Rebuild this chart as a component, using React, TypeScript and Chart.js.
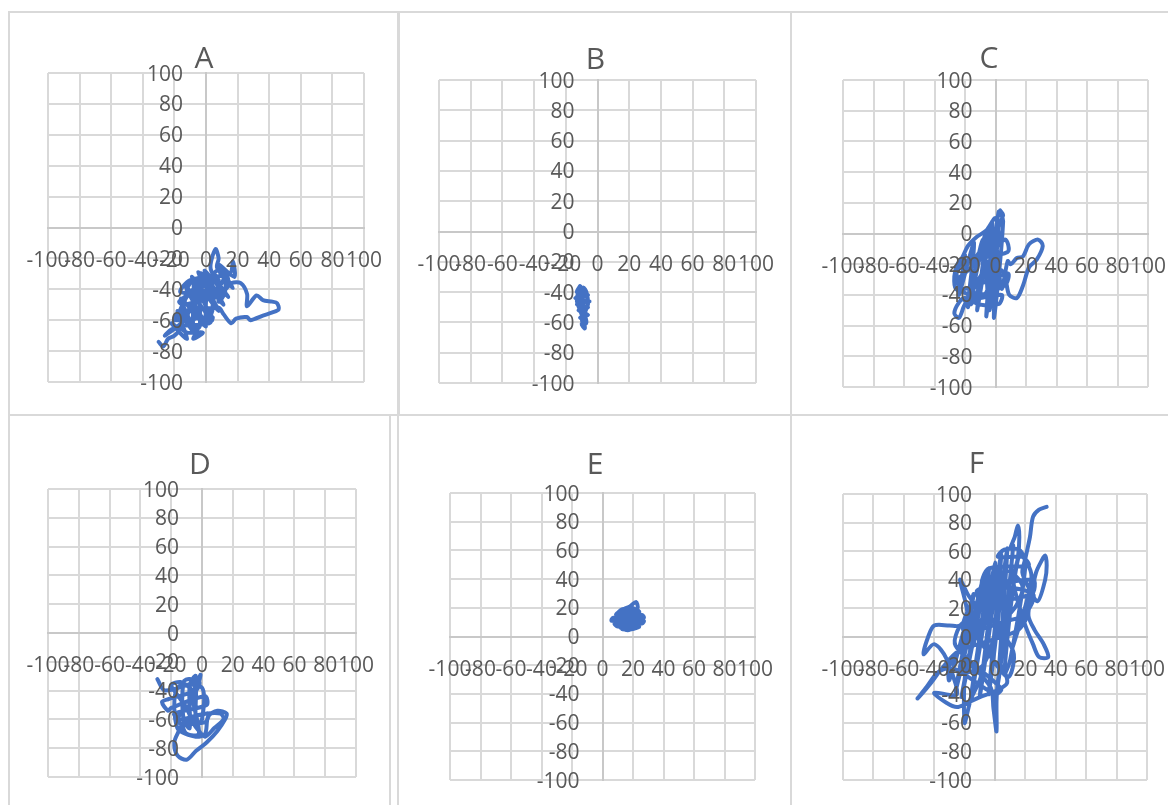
import React, { useEffect, useRef } from "react";
import { Chart, registerables } from "chart.js";

Chart.register(...registerables);

// ---------- data ----------
const titles = ["A", "B", "C", "D", "E", "F"];
const axisMin = -100;
const axisMax = 100;
const axisStep = 20;

type Pt = [number, number];

const pointsA: Pt[] = [
  [-30, -74], [-27, -77], [-24, -72], [-20, -70], [-17, -66], [-22, -62], [-12, -72], [-18, -54], [-6, -70], [-16, -46],
  [0, -64], [-13, -38], [4, -60], [-9, -32], [8, -54], [-5, -29], [11, -50], [-1, -28], [14, -45], [3, -27],
  [6, -14], [8, -20], [7, -26], [17, -39], [8, -24], [18, -32], [17, -22], [15, -30], [-10, -34], [-16, -42],
  [12, -40], [16, -36], [22, -36], [26, -43], [26, -51], [32, -44], [36, -47], [42, -48], [45, -49], [46, -53],
  [42, -55], [36, -57], [28, -60], [26, -58], [19, -59], [16, -62], [11, -56], [8, -52], [-18, -56], [-20, -60],
  [4, -58], [2, -62], [-16, -64], [-12, -68], [-2, -68], [-8, -72], [-6, -66], [-14, -58], [-12, -40], [-8, -34],
  [-8, -66], [-4, -64], [-4, -30], [0, -32], [0, -60], [4, -54], [4, -30], [8, -34], [8, -48], [12, -42],
  [12, -30], [10, -36], [-2, -46], [-14, -50], [-17, -48], [-10, -44], [-6, -56], [-10, -62], [-22, -66], [-26, -70],
  [-14, -60], [-2, -38], [10, -26], [14, -36], [4, -46], [-8, -40], [-18, -58], [-10, -52], [-2, -36],
];

const pointsB: Pt[] = [
  [-11, -36], [-13, -40], [-6, -42], [-14, -44], [-5, -46], [-13, -48], [-6, -50], [-12, -52], [-6, -55], [-11, -57],
  [-7, -59], [-10, -61], [-8, -64], [-9, -58], [-11, -52], [-13, -46], [-12, -40], [-9, -37], [-7, -40], [-6, -48],
  [-8, -54], [-7, -60], [-9, -62], [-10, -54], [-9, -46], [-10, -40], [-8, -38], [-11, -44], [-8, -50], [-10, -48],
];

const pointsC: Pt[] = [
  [3, 15], [5, 12], [2, 4], [-1, -55], [5, 8], [2, 14], [-6, -54], [-2, 8], [-12, -50], [-6, 2],
  [-18, -48], [-14, -6], [-24, -40], [-20, -14], [-26, -30], [6, -4], [8, -12], [-24, -20], [-22, -36], [8, -26],
  [6, -34], [-20, -44], [4, -40], [2, -46], [-14, -44], [-8, -4], [-4, -50], [0, -6], [4, -36], [8, -18],
  [10, -20], [14, -16], [18, -15], [22, -7], [28, -4], [31, -8], [27, -17], [22, -22], [18, -34], [14, -42],
  [9, -40], [7, -32], [4, -24], [-6, -26], [-10, -34], [-16, -46], [-20, -42], [-24, -45], [-27, -52], [-24, -55],
  [-21, -48], [-18, -40], [-26, -36], [-27, -28], [-25, -20], [-22, -16], [-18, -8], [-12, -2], [-6, 2], [0, 10],
  [2, -6], [-4, -18], [-10, -28], [-14, -34], [-10, -12], [-16, -24], [-8, -40], [0, -24],
];

const pointsD: Pt[] = [
  [-29, -32], [-24, -40], [-2, -34], [-4, -40], [-22, -46], [-26, -48], [-22, -54], [-20, -52], [2, -44], [3, -50],
  [-18, -56], [-14, -60], [4, -56], [2, -62], [-12, -64], [-10, -70], [-2, -70], [-6, -44], [-1, -29], [-3, -36],
  [-8, -32], [-12, -34], [-12, -60], [-8, -66], [-8, -36], [-4, -30], [-4, -64], [0, -60], [0, -38], [-16, -38],
  [-16, -66], [-4, -72], [2, -70], [4, -58], [10, -54], [16, -56], [15, -60], [10, -68], [3, -76], [-4, -82],
  [-10, -88], [-16, -85], [-18, -76], [-15, -68], [-12, -62], [-6, -58], [2, -56], [12, -56], [14, -60], [8, -66],
  [2, -72], [-2, -68], [-6, -62], [-10, -52], [-14, -46], [-18, -40], [-20, -36], [-14, -34], [-8, -38], [-4, -44],
  [-8, -50], [-12, -54], [-16, -60], [-12, -64], [-6, -58],
];

const pointsE: Pt[] = [
  [13, 5], [19, 5], [24, 7], [10, 7], [8, 9], [26, 9], [27, 11], [6, 11], [7, 13], [27, 13],
  [26, 15], [9, 15], [11, 17], [24, 17], [22, 19], [14, 19], [18, 21], [22, 24], [23, 20], [20, 18],
  [16, 16], [12, 6], [10, 16], [14, 19], [15, 5], [18, 5], [18, 20], [21, 19], [21, 6], [24, 8],
  [24, 16], [26, 12], [20, 10], [14, 12], [17, 14],
];

const pointsF: Pt[] = [
  [34, 91], [29, 89], [25, 84], [23, 70], [20, 55], [18, 45], [22, 35], [28, 25], [33, 40], [34, 50],
  [33, 57], [30, 52], [27, 45], [24, 30], [22, 15], [26, 5], [32, -5], [35, -14], [29, -14], [25, -5],
  [20, 8], [15, 25], [12, 40], [15, 55], [16, 70], [15, 78], [13, 70], [10, 62], [12, 64], [2, -34],
  [8, 62], [-4, -40], [4, 58], [-10, -42], [0, 52], [-16, -44], [-4, 48], [-22, -42], [-8, 40], [-26, -38],
  [-14, 30], [-30, -30], [-32, -15], [-40, -5], [-47, -12], [-44, 0], [-40, 8], [-30, 8], [-23, 8], [-18, 15],
  [-23, 40], [-18, 30], [-12, 18], [-30, -20], [-38, -25], [-45, -35], [-51, -43], [-42, -32], [-35, -22], [-24, -10],
  [14, 4], [20, 14], [-20, 4], [-16, 20], [24, 30], [25, 40], [-8, 36], [-4, 48], [22, 50], [18, 56],
  [2, 56], [6, 61], [16, 61], [20, 50], [10, -16], [6, -26], [16, 58], [24, 42], [12, -6], [14, 4],
  [25, 30], [-12, 32], [12, -10], [8, -28], [-20, 10], [-26, -6], [4, -36], [0, -40], [-28, -22], [-25, -40],
  [-40, -39], [-32, -46], [-25, -49], [-18, -46], [-10, -42], [0, -38], [8, -32], [4, -20], [2, -30], [1, -45],
  [1, -66], [-1, -50], [-3, -35], [-18, -20], [-20, -60], [-16, -44], [-10, -30], [-6, -14], [6, 10], [10, 30],
  [4, 44], [-6, 20], [-14, -4], [-20, -24], [-8, -20], [2, 6], [14, 22], [18, 36], [8, 46], [0, 30],
  [-8, 6],
];

const panelPoints = [pointsA, pointsB, pointsC, pointsD, pointsE, pointsF];

// ---------- layout (absolute page pixels) ----------
const canvasRects = [
  { left: 10, top: 13, width: 387, height: 401 },
  { left: 401, top: 13, width: 388, height: 401 },
  { left: 793, top: 13, width: 375, height: 401 },
  { left: 10, top: 417, width: 379, height: 388 },
  { left: 400, top: 417, width: 389, height: 388 },
  { left: 793, top: 417, width: 375, height: 388 },
];
const plotRects = [
  { left: 48, top: 73, right: 364, bottom: 382 },
  { left: 439, top: 80, right: 756, bottom: 383 },
  { left: 843, top: 80, right: 1148, bottom: 387 },
  { left: 48, top: 489, right: 356, bottom: 777 },
  { left: 450, top: 493, right: 755, bottom: 780 },
  { left: 843, top: 494, right: 1147, bottom: 780 },
];
const titlePos = [
  { x: 204, y: 57.5 },
  { x: 595.5, y: 58 },
  { x: 989, y: 57.5 },
  { x: 200, y: 463 },
  { x: 595, y: 463 },
  { x: 976.5, y: 462.5 },
];
const borderBoxes = [
  { left: 8, top: 11, width: 391, height: 405 },
  { left: 398, top: 11, width: 394, height: 405 },
  { left: 790, top: 11, width: 400, height: 405 },
  { left: 8, top: 414, width: 383, height: 420 },
  { left: 397, top: 414, width: 395, height: 420 },
  { left: 790, top: 414, width: 400, height: 420 },
];

const TEXT_COLOR = "#595959";
const LINE_COLOR = "#4472C4";
const FONT = '"Open Sans", "Noto Sans", sans-serif';

function Panel({ idx }: { idx: number }) {
  const ref = useRef<HTMLCanvasElement | null>(null);
  const cr = canvasRects[idx];
  useEffect(() => {
    if (!ref.current) return;
    const pr = plotRects[idx];
    const tp = titlePos[idx];
    const data = panelPoints[idx].map(([x, y]) => ({ x, y }));
    const labelPlugin = {
      id: "excelLabels",
      afterDraw(chart: any) {
        const ctx = chart.ctx;
        const xs = chart.scales.x;
        const ys = chart.scales.y;
        const x0 = xs.getPixelForValue(0);
        const y0 = ys.getPixelForValue(0);
        ctx.save();
        ctx.fillStyle = TEXT_COLOR;
        ctx.font = `21px ${FONT}`;
        ctx.textBaseline = "alphabetic";
        ctx.textAlign = "right";
        ys.ticks.forEach((t: any) => {
          ctx.fillText(String(t.label), x0 - 23, ys.getPixelForValue(t.value) + 7.5);
        });
        ctx.textAlign = "center";
        xs.ticks.forEach((t: any) => {
          ctx.fillText(String(t.label), xs.getPixelForValue(t.value), y0 + 39);
        });
        ctx.font = `30px ${FONT}`;
        ctx.fillText(titles[idx], tp.x - cr.left, tp.y - cr.top + 10.5);
        ctx.restore();
      },
    };
    const chart = new Chart(ref.current, {
      type: "scatter",
      data: {
        datasets: [
          {
            data,
            showLine: true,
            borderColor: LINE_COLOR,
            backgroundColor: LINE_COLOR,
            borderWidth: 4,
            pointRadius: 0,
            tension: 0.3,
            borderCapStyle: "round",
            borderJoinStyle: "round",
          } as any,
        ],
      },
      options: {
        animation: false,
        responsive: false,
        devicePixelRatio: 1,
        events: [],
        layout: {
          padding: {
            left: pr.left - cr.left,
            top: pr.top - cr.top,
            right: cr.left + cr.width - pr.right,
            bottom: cr.top + cr.height - pr.bottom,
          },
        },
        plugins: { legend: { display: false }, tooltip: { enabled: false }, title: { display: false } },
        scales: {
          x: {
            type: "linear",
            min: axisMin,
            max: axisMax,
            position: { y: 0 } as any,
            ticks: { stepSize: axisStep, display: false },
            grid: { color: "#d9d9d9", lineWidth: 2, drawTicks: false },
            border: { color: "#c8c8c8", width: 2 },
          },
          y: {
            type: "linear",
            min: axisMin,
            max: axisMax,
            position: { x: 0 } as any,
            ticks: { stepSize: axisStep, display: false },
            grid: { color: "#d9d9d9", lineWidth: 2, drawTicks: false },
            border: { color: "#c8c8c8", width: 2 },
          },
        },
      } as any,
      plugins: [labelPlugin],
    });
    return () => chart.destroy();
  }, [idx]);
  return (
    <canvas
      ref={ref}
      width={cr.width}
      height={cr.height}
      style={{ position: "absolute", left: cr.left, top: cr.top, width: cr.width, height: cr.height }}
    />
  );
}

export default function App() {
  return (
    <div
      style={{
        position: "fixed",
        left: 0,
        top: 0,
        width: 1168,
        height: 805,
        overflow: "hidden",
        background: "#ffffff",
      }}
    >
      {borderBoxes.map((b, i) => (
        <div
          key={"b" + i}
          style={{
            position: "absolute",
            left: b.left,
            top: b.top,
            width: b.width,
            height: b.height,
            border: "2px solid #d9d9d9",
            boxSizing: "border-box",
          }}
        />
      ))}
      {titles.map((_, i) => (
        <Panel key={i} idx={i} />
      ))}
    </div>
  );
}
